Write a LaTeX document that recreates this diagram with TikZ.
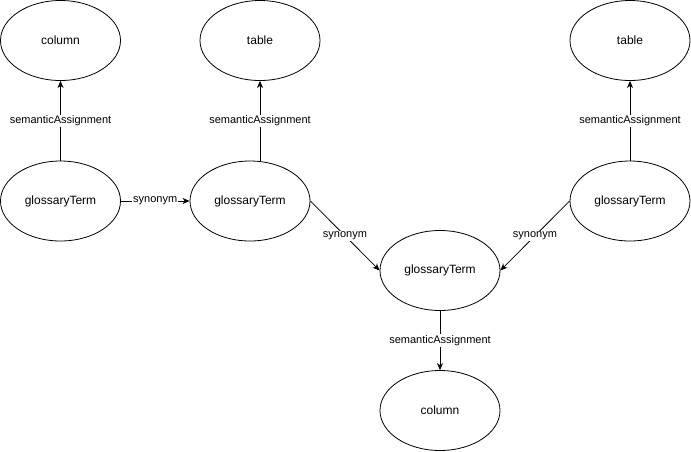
\documentclass[tikz,border=0pt]{standalone}
\usepackage{fontspec}
\setmainfont{Liberation Sans}
\usetikzlibrary{shapes.geometric,arrows.meta}
\begin{document}
\begin{tikzpicture}[x=1pt,y=-1pt,
  entity/.style={draw,ellipse,line width=0.8pt,minimum width=120pt,minimum height=80pt,inner sep=0pt,font=\fontsize{12}{14}\selectfont},
  rel/.style={draw,line width=0.8pt,-{Stealth[length=7pt,width=6pt,inset=2pt]}},
  lbl/.style={fill=white,inner sep=1pt,font=\fontsize{11}{13}\selectfont}]
\useasboundingbox (0,0) rectangle (691,451);
% entities
\node[entity] (col1) at (60.5,40.5) {column};
\node[entity] (tab2) at (260,40.5) {table};
\node[entity] (tab3) at (630,40.5) {table};
\node[entity] (gt1) at (60.5,201) {glossaryTerm};
\node[entity] (gt2) at (250,201) {glossaryTerm};
\node[entity] (gt3) at (630,201) {glossaryTerm};
\node[entity] (gt4) at (440,270.5) {glossaryTerm};
\node[entity] (col4) at (440,410.5) {column};
% relations
\draw[rel] (gt1.north) -- node[lbl] {semanticAssignment} (col1.south);
\draw[rel] (gt2.north -| tab2.south) -- node[lbl] {semanticAssignment} (tab2.south);
\draw[rel] (gt3.north) -- node[lbl] {semanticAssignment} (tab3.south);
\draw[rel] (gt1.east) -- node[lbl] {synonym} (gt2.west);
\draw[rel] (gt2.east) -- node[lbl] {synonym} (gt4.west);
\draw[rel] (gt3.west) -- node[lbl] {synonym} (gt4.east);
\draw[rel] (gt4.south) -- node[lbl] {semanticAssignment} (col4.north);
\end{tikzpicture}
\end{document}
